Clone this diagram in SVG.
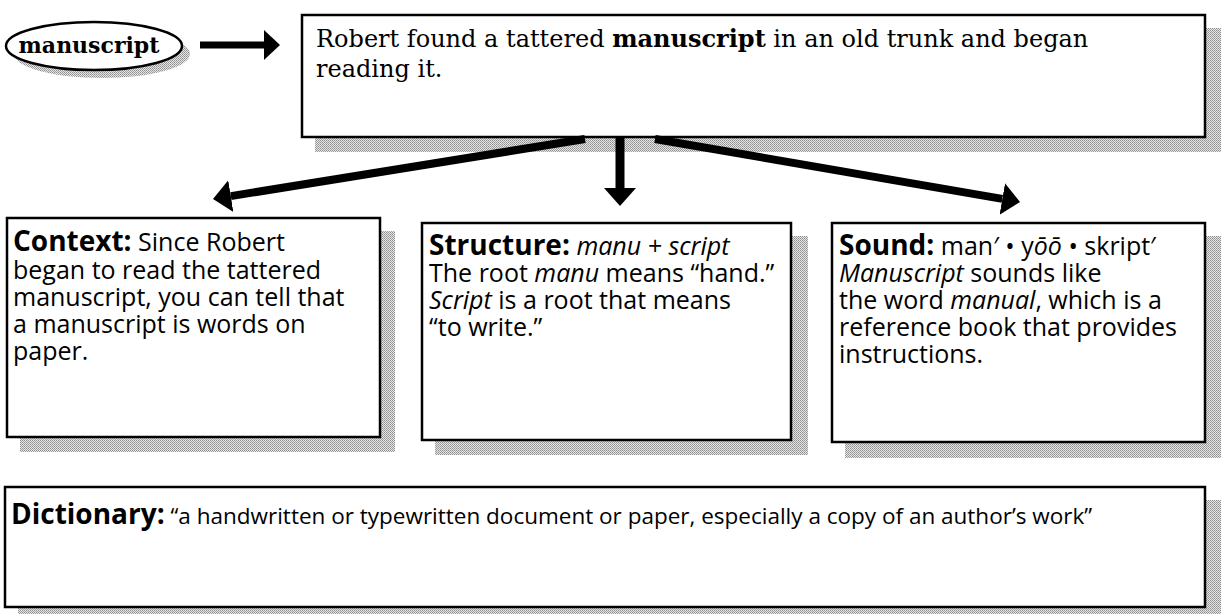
<svg xmlns="http://www.w3.org/2000/svg" width="1221" height="614" viewBox="0 0 1221 614">
  <defs>
    <!-- halftone grain used for the drop shadows -->
    <pattern id="grain" width="2" height="2" patternUnits="userSpaceOnUse">
      <rect width="2" height="2" fill="#e6e6e6"/>
      <rect width="1" height="1" fill="#8e8e8e"/>
      <rect x="1" y="1" width="1" height="1" fill="#a2a2a2"/>
    </pattern>
    <marker id="head" viewBox="0 0 18 32" refX="0" refY="16" markerWidth="18" markerHeight="32" markerUnits="userSpaceOnUse" orient="auto">
      <path d="M0,0 L18,16 L0,32 Z" fill="#000"/>
    </marker>
    <marker id="headSmall" viewBox="0 0 16 30" refX="0" refY="15" markerWidth="16" markerHeight="30" markerUnits="userSpaceOnUse" orient="auto">
      <path d="M0,0 L16,15 L0,30 Z" fill="#000"/>
    </marker>
  </defs>
  <style>
    .box { fill: #fff; stroke: #000; stroke-width: 2.5; }
    .shadow { fill: url(#grain); }
    .serif { font-family: "DejaVu Serif", "Liberation Serif", serif; font-size: 24px; fill: #000; }
    .word { font-family: "DejaVu Serif", "Liberation Serif", serif; font-weight: bold; font-size: 22px; fill: #000; }
    .hand { font-family: "Open Sans", "DejaVu Sans", sans-serif; font-size: 25px; fill: #000; }
    .dict { font-size: 22.5px; }
    .lbl { font-family: "Open Sans", "DejaVu Sans", sans-serif; font-weight: bold; font-size: 28px; }
    .b { font-weight: bold; }
    .i { font-style: italic; }
    .conn { stroke: #000; fill: none; }
  </style>

  <rect width="1221" height="614" fill="#fff"/>

  <!-- word oval -->
  <g id="word">
    <ellipse class="shadow" cx="102" cy="54" rx="88" ry="24"/>
    <ellipse cx="94" cy="46" rx="88" ry="24" fill="#fff" stroke="#000" stroke-width="2.5"/>
    <text class="word" x="89" y="53" text-anchor="middle">manuscript</text>
  </g>

  <!-- sentence box -->
  <g id="sentence">
    <rect class="shadow" x="315" y="28" width="906" height="124"/>
    <rect class="box" x="302" y="15" width="903" height="122"/>
    <text class="serif" x="316" y="47">Robert found a tattered <tspan class="b">manuscript</tspan> in an old trunk and began</text>
    <text class="serif" x="316" y="77">reading it.</text>
  </g>

  <!-- arrows -->
  <g id="connectors">
    <line class="conn" x1="200" y1="45" x2="264" y2="45" stroke-width="7" marker-end="url(#headSmall)"/>
    <line class="conn" x1="585" y1="139" x2="230.8" y2="196.1" stroke-width="8" marker-end="url(#head)"/>
    <line class="conn" x1="620" y1="137" x2="620" y2="188" stroke-width="9" marker-end="url(#head)"/>
    <line class="conn" x1="655" y1="139" x2="1002.3" y2="198.9" stroke-width="8" marker-end="url(#head)"/>
  </g>

  <!-- context clue -->
  <g id="context">
    <rect class="shadow" x="20" y="231" width="375" height="221"/>
    <rect class="box" x="7" y="218" width="373" height="219"/>
    <text class="hand" x="13" y="251"><tspan class="lbl">Context:</tspan> Since Robert</text>
    <text class="hand" x="13" y="279">began to read the tattered</text>
    <text class="hand" x="13" y="306">manuscript, you can tell that</text>
    <text class="hand" x="13" y="333">a manuscript is words on</text>
    <text class="hand" x="13" y="360">paper.</text>
  </g>

  <!-- word structure -->
  <g id="structure">
    <rect class="shadow" x="435" y="236" width="373" height="219"/>
    <rect class="box" x="422" y="223" width="369" height="217"/>
    <text class="hand" x="429" y="255"><tspan class="lbl">Structure:</tspan> <tspan class="i">manu + script</tspan></text>
    <text class="hand" x="429" y="282">The root <tspan class="i">manu</tspan> means “hand.”</text>
    <text class="hand" x="429" y="309"><tspan class="i">Script</tspan> is a root that means</text>
    <text class="hand" x="429" y="336">“to write.”</text>
  </g>

  <!-- pronunciation -->
  <g id="sound">
    <rect class="shadow" x="845" y="236" width="376" height="222"/>
    <rect class="box" x="832" y="223" width="373" height="219"/>
    <text class="hand" x="839" y="255"><tspan class="lbl">Sound:</tspan> man′ • y<tspan class="i">ōō</tspan> • skript′</text>
    <text class="hand" x="839" y="282"><tspan class="i">Manuscript</tspan> sounds like</text>
    <text class="hand" x="839" y="309">the word <tspan class="i">manual</tspan>, which is a</text>
    <text class="hand" x="839" y="336">reference book that provides</text>
    <text class="hand" x="839" y="363">instructions.</text>
  </g>

  <!-- dictionary definition -->
  <g id="dictionary">
    <rect class="shadow" x="18" y="500" width="1203" height="114"/>
    <rect class="box" x="5" y="487" width="1200" height="120"/>
    <text class="hand dict" x="11" y="524"><tspan class="lbl">Dictionary:</tspan> “a handwritten or typewritten document or paper, especially a copy of an author’s work”</text>
  </g>
</svg>
